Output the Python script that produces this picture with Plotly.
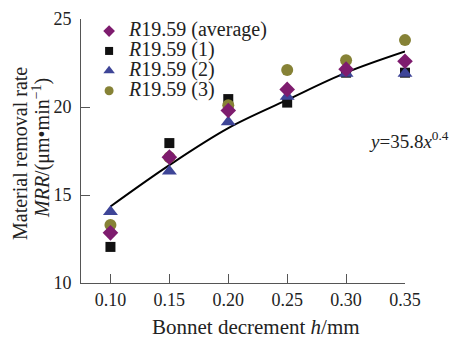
import plotly.graph_objects as go

h = [0.10, 0.15, 0.20, 0.25, 0.30, 0.35]
tick_labels = ["0.10", "0.15", "0.20", "0.25", "0.30", "0.35"]
mrr_avg = [12.85, 17.15, 19.8, 21.0, 22.15, 22.6]
mrr_1 = [12.05, 17.95, 20.45, 20.25, 21.95, 21.95]
mrr_2 = [14.05, 16.35, 19.15, 20.6, 21.9, 21.9]
mrr_3 = [13.3, 17.15, 20.1, 22.1, 22.65, 23.8]
fit_h = [0.10, 0.15, 0.20, 0.25, 0.30, 0.35]
fit_mrr = [14.35, 16.7, 18.8, 20.4, 21.95, 23.15]
legend_names = ["<i>R</i>19.59 (average)", "<i>R</i>19.59 (1)", "<i>R</i>19.59 (2)", "<i>R</i>19.59 (3)"]

FONT = "Liberation Serif, Times New Roman, serif"
TXT = "#222222"
COLORS = ["#7E1C6E", "#111111", "#3E4597", "#868236"]
SYMBOLS = ["diamond", "square", "triangle-up", "circle"]
SIZES = [12, 10, 13, 12]
LEG_SIZES = [9, 8, 10, 9]


def lname(s):
    return '<span style="font-size:20px">' + s + "</span>"


fig = go.Figure()
fig.add_trace(go.Scatter(x=fit_h, y=fit_mrr, mode="lines", line=dict(color="black", width=2, shape="spline"),
                         showlegend=False, hoverinfo="skip"))
# draw order: square, circle, triangle, diamond
for idx, ys in [(1, mrr_1), (3, mrr_3), (2, mrr_2), (0, mrr_avg)]:
    fig.add_trace(go.Scatter(x=h, y=ys, mode="markers", showlegend=False, name=legend_names[idx],
                             marker=dict(symbol=SYMBOLS[idx], size=SIZES[idx], color=COLORS[idx]),
                             cliponaxis=False))
# legend entries (smaller symbols, as in the reference)
for idx in range(4):
    fig.add_trace(go.Scatter(x=[None], y=[None], mode="markers", name=lname(legend_names[idx]),
                             marker=dict(symbol=SYMBOLS[idx], size=LEG_SIZES[idx], color=COLORS[idx]),
                             showlegend=True))

fig.update_layout(
    width=463, height=343,
    margin=dict(l=81, r=58, t=19, b=60, autoexpand=False),
    paper_bgcolor="white", plot_bgcolor="white",
    font=dict(family=FONT, size=18, color=TXT),
    legend=dict(x=0.025, y=1.011, xanchor="left", yanchor="top", bgcolor="rgba(0,0,0,0)",
                font=dict(family=FONT, size=13, color=TXT), tracegroupgap=0, itemwidth=30),
    xaxis=dict(range=[0.075, 0.35], tickvals=h, ticktext=tick_labels, ticks="inside", ticklen=9,
               tickcolor="#555555", showline=True, linecolor="#555555", linewidth=1, showgrid=False,
               zeroline=False, automargin=False, tickfont=dict(family=FONT, size=18, color=TXT)),
    yaxis=dict(range=[10, 25], tickvals=[10, 15, 20, 25], ticks="inside", ticklen=9,
               tickcolor="#555555", showline=True, linecolor="#555555", linewidth=1, showgrid=False,
               zeroline=False, automargin=False, ticklabelstandoff=5,
               tickfont=dict(family=FONT, size=18, color=TXT)),
    showlegend=True,
)

fig.add_annotation(xref="paper", yref="paper", x=(20 - 81) / 324, xanchor="center", y=(283 - 154) / 264,
                   yanchor="middle", textangle=-90, text="Material removal rate",
                   showarrow=False, font=dict(family=FONT, size=20, color=TXT))
fig.add_annotation(xref="paper", yref="paper", x=(41 - 81) / 324, xanchor="center", y=(283 - 148) / 264,
                   yanchor="middle", textangle=-90, text="<i>MRR</i>/(μm•min<sup>−1</sup>)",
                   showarrow=False, font=dict(family=FONT, size=20, color=TXT))
fig.add_annotation(xref="paper", yref="paper", x=(256 - 81) / 324, xanchor="center", y=-(327 - 283) / 264,
                   yanchor="middle", text="Bonnet decrement <i>h</i>/mm", showarrow=False,
                   font=dict(family=FONT, size=21, color=TXT))
fig.add_annotation(xref="paper", yref="paper", x=(367 - 81) / 324, xanchor="left", y=(283 - 140) / 264,
                   yanchor="middle", text="<i>y</i>=35.8<i>x</i><sup>0.4</sup>", showarrow=False,
                   font=dict(family=FONT, size=19, color=TXT))

fig.write_html("out.html", post_script="document.body.style.margin='0';",
               config={"displayModeBar": False})
